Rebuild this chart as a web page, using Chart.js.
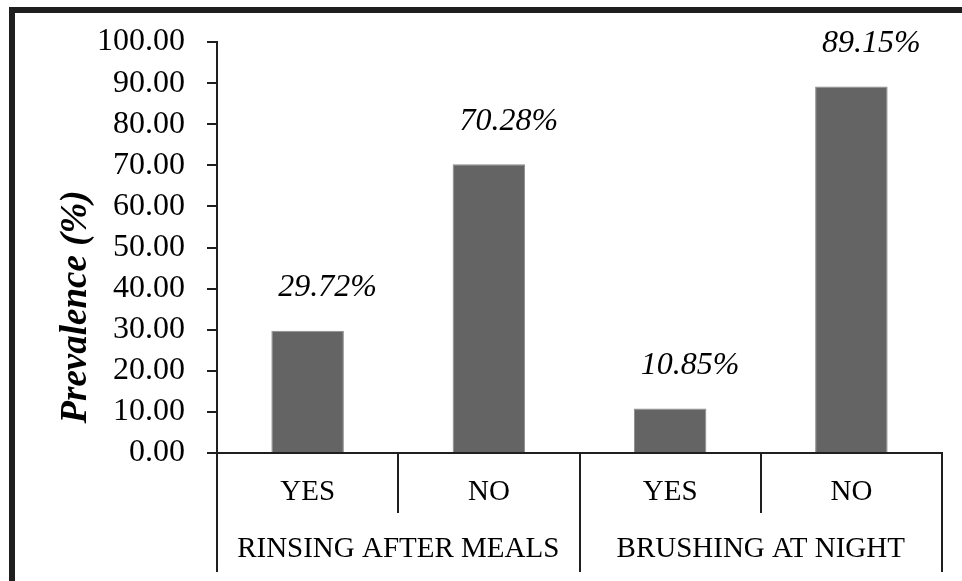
<!DOCTYPE html>
<html>
<head>
<meta charset="utf-8">
<script src="https://cdn.jsdelivr.net/npm/chart.js@4.4.1/dist/chart.umd.min.js"></script>
<style>
  html, body { margin: 0; padding: 0; background: #fff; }
  #chart { display: block; }
</style>
</head>
<body>
<canvas id="chart" width="962" height="581"></canvas>
<script>
// values
const answers = ['YES', 'NO', 'YES', 'NO'];
const groups = ['RINSING AFTER MEALS', 'BRUSHING AT NIGHT'];
const prevalence = [29.72, 70.28, 10.85, 89.15];
const yTicks = [0, 10, 20, 30, 40, 50, 60, 70, 80, 90, 100];

const SERIF = '"Liberation Serif", "DejaVu Serif", serif';
const INK = '#1f1f1f';

// thick frame on top and left edge
const framePlugin = {
  id: 'frame',
  beforeDraw(chart) {
    const ctx = chart.ctx;
    ctx.save();
    ctx.fillStyle = '#fff';
    ctx.fillRect(0, 0, chart.width, chart.height);
    ctx.fillStyle = INK;
    ctx.fillRect(9, 7, chart.width - 9, 6);
    ctx.fillRect(9, 7, 6, chart.height - 7);
    ctx.restore();
  }
};

// italic value labels above the bars
const valueLabels = {
  id: 'valueLabels',
  afterDatasetsDraw(chart) {
    const ctx = chart.ctx;
    const meta = chart.getDatasetMeta(0);
    ctx.save();
    ctx.font = 'italic 32px ' + SERIF;
    ctx.fillStyle = '#000';
    ctx.textAlign = 'center';
    ctx.textBaseline = 'middle';
    meta.data.forEach((bar, i) => {
      ctx.fillText(prevalence[i].toFixed(2) + '%', bar.x + 20, bar.y - 43);
    });
    ctx.restore();
  }
};

// y title centred over plot + category rows, like the original
const yTitle = {
  id: 'yTitle',
  afterDraw(chart) {
    const ctx = chart.ctx;
    const top = chart.chartArea.top;
    const bottom = chart.scales.x2.bottom - 9;
    ctx.save();
    ctx.translate(76, (top + bottom) / 2);
    ctx.rotate(-Math.PI / 2);
    ctx.font = 'italic bold 37px ' + SERIF;
    ctx.fillStyle = '#000';
    ctx.textAlign = 'center';
    ctx.textBaseline = 'middle';
    ctx.fillText('Prevalence (%)', 0, 0);
    ctx.restore();
  }
};

new Chart(document.getElementById('chart').getContext('2d'), {
  type: 'bar',
  data: {
    labels: answers,
    datasets: [{
      data: prevalence,
      backgroundColor: '#646464',
      borderColor: '#8a8a8a',
      borderWidth: 1,
      barPercentage: 0.8,
      categoryPercentage: 0.5,
    }],
  },
  options: {
    responsive: false,
    animation: false,
    layout: { padding: { top: 42, right: 20, bottom: 0, left: 0 } },
    plugins: {
      legend: { display: false },
      tooltip: { enabled: false },
    },
    scales: {
      y: {
        min: 0,
        max: 100,
        afterFit: s => { s.width = 217; },
        afterBuildTicks: s => { s.ticks = yTicks.map(v => ({ value: v })); },
        border: { color: INK, width: 2 },
        grid: { drawOnChartArea: false, tickLength: 10, color: INK, lineWidth: 2 },
        ticks: {
          autoSkip: false,
          padding: 22,
          color: '#000',
          font: { family: SERIF, size: 32, lineHeight: 1 },
          callback: v => v.toFixed(2),
        },
      },
      x: {
        weight: 0,
        afterFit: s => { s.height = 60; },
        border: { color: INK, width: 2 },
        grid: { offset: true, drawOnChartArea: false, tickLength: 60, color: INK, lineWidth: 2 },
        ticks: {
          padding: -38,
          color: '#000',
          maxRotation: 0,
          font: { family: SERIF, size: 29 },
        },
      },
      x2: {
        type: 'category',
        position: 'bottom',
        weight: 1,
        labels: groups,
        offset: true,
        afterFit: s => { s.height = 68; },
        border: { display: false },
        grid: { offset: true, drawOnChartArea: false, tickLength: 59, color: INK, lineWidth: 2 },
        ticks: {
          padding: -40,
          color: '#000',
          maxRotation: 0,
          font: { family: SERIF, size: 29 },
        },
      },
    },
  },
  plugins: [framePlugin, valueLabels, yTitle],
});
</script>
</body>
</html>
